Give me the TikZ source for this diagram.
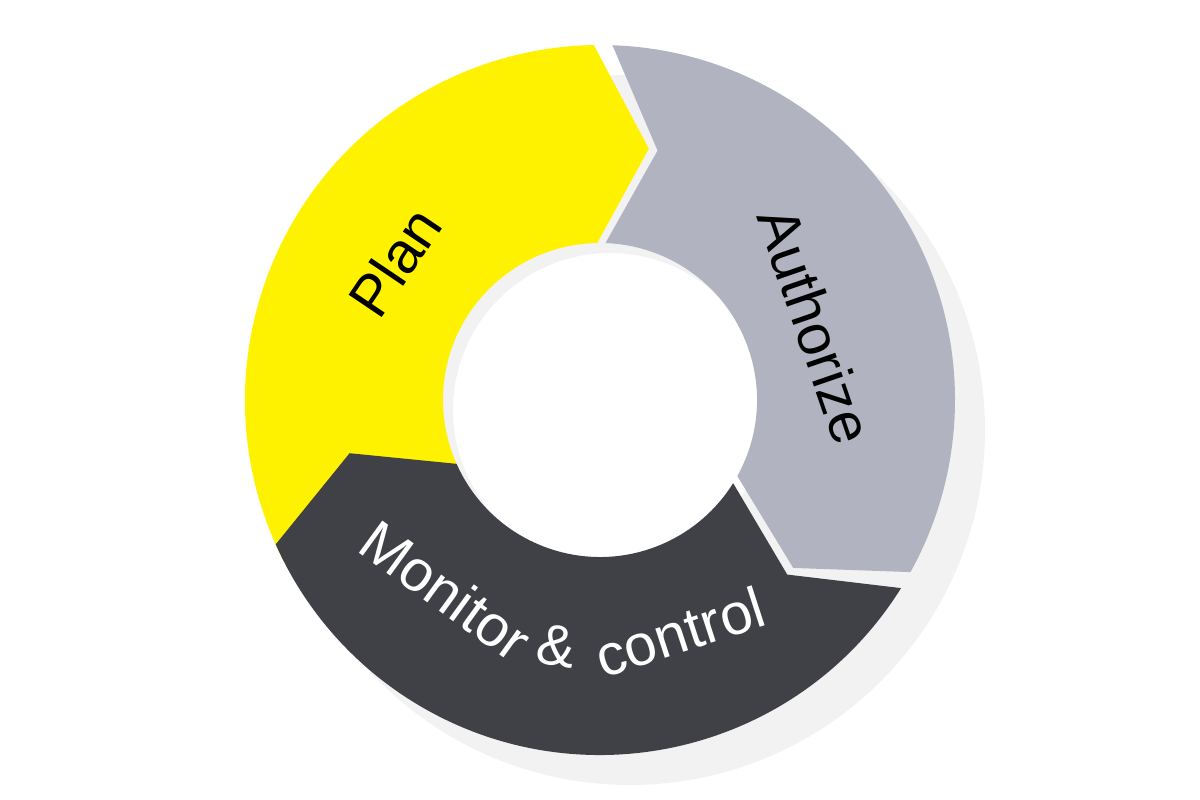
\documentclass[tikz,border=0pt]{standalone}
\usepackage{fontspec}
\setmainfont{Liberation Sans}
\definecolor{planyellow}{HTML}{FFF200}
\definecolor{authgray}{HTML}{B1B4C0}
\definecolor{mondark}{HTML}{404146}
\tikzset{
  {ring label/.style} ={font=\fontsize{16.5}{20}\selectfont},
  {segment/.style} ={fill=#1, draw=none},
  {shadow ring/.style} ={fill=black!5, draw=none},
}
% chevron segment: tail angle, head angle, colour
\newcommand{\cycseg}[3]{%
  \path[segment=#3] (#1:3.55) arc[start angle=#1, end angle=#2, radius=3.55]
    -- ({#2-12}:2.56) -- (#2:1.57)
    arc[start angle=#2, end angle=#1, radius=1.57]
    -- ({#1-11}:2.56) -- cycle;}

\begin{document}
\begin{tikzpicture}
\useasboundingbox (0,0) rectangle (12,8);
\begin{scope}[shift={(6,4)}]
  % soft shadow
  \path[shadow ring, even odd rule] (0.3,-0.3) circle (3.55) (0.1,-0.1) circle (1.57);
  \cycseg{207}{91}{planyellow}
  \cycseg{88}{-29}{authgray}
  \cycseg{328}{204}{mondark}
  \node[ring label, rotate=56] (plan) at (146:2.47) {Plan};
  \node[ring label, rotate=-71] (auth) at (19:2.28) {Authorize};
  \node[ring label, white, rotate=-36] (mon) at (231:2.45) {Monitor};
  \node[ring label, white, rotate=-9] (amp) at (260:2.5) {\&};
  \node[ring label, white, rotate=18] (ctrl) at (289:2.45) {control};
\end{scope}
\end{tikzpicture}
\end{document}
